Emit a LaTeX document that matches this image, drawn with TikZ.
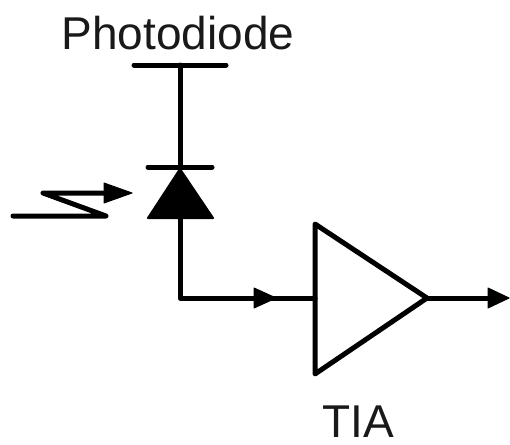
\documentclass[tikz,border=0pt]{standalone}
\usepackage{fontspec}
\setmainfont{Liberation Sans}
\begin{document}
\begin{tikzpicture}[x=1pt,y=-1pt,
  wire/.style={line width=5pt,black,line cap=round,line join=round},
  lab/.style={font=\fontsize{46}{50}\selectfont,text=black!90,inner sep=0pt,anchor=base},
  tip/.style={fill=black,draw=black,line width=1pt,line join=round}]
\useasboundingbox (0,0) rectangle (510,444);
\fill[white] (0,0) rectangle (510,444);
\node[lab] (pd) at (178,49) {Photodiode};
\node[lab] (tia) at (358,437) {TIA};
\coordinate (railL) at (134,65);
\coordinate (railR) at (226,65);
\coordinate (top) at (180,65);
\coordinate (cath) at (180,167);
\coordinate (anode) at (180,218);
\coordinate (corner) at (180,298);
\coordinate (tl) at (315,224);
\coordinate (bl) at (315,374);
\coordinate (apex) at (427,298);
\coordinate (in) at (315,298);
\coordinate (out) at (500,298);
\coordinate (ltA) at (13,216);
\coordinate (ltB) at (106,216);
\coordinate (ltC) at (43,193);
\coordinate (ltD) at (115,193);
\draw[wire] (railL) -- (railR);
\draw[wire] (top) -- (cath);
\draw[wire] (148,167) -- (212,167);
\path[fill=black,draw=black,line width=2pt,line join=round] (180,169) -- (213,218) -- (148,218) -- cycle;
\draw[wire] (anode) -- (corner) -- (in);
\path[tip] (254,288) -- (276,298) -- (254,308) -- cycle;
\draw[wire] (tl) -- (apex) -- (bl) -- cycle;
\draw[wire] (apex) -- (out);
\path[tip] (488,288) -- (509,298) -- (488,308) -- cycle;
\draw[wire] (ltA) -- (ltB) -- (ltC) -- (ltD);
\path[tip] (104,183) -- (132,193) -- (104,203) -- cycle;
\end{tikzpicture}
\end{document}
